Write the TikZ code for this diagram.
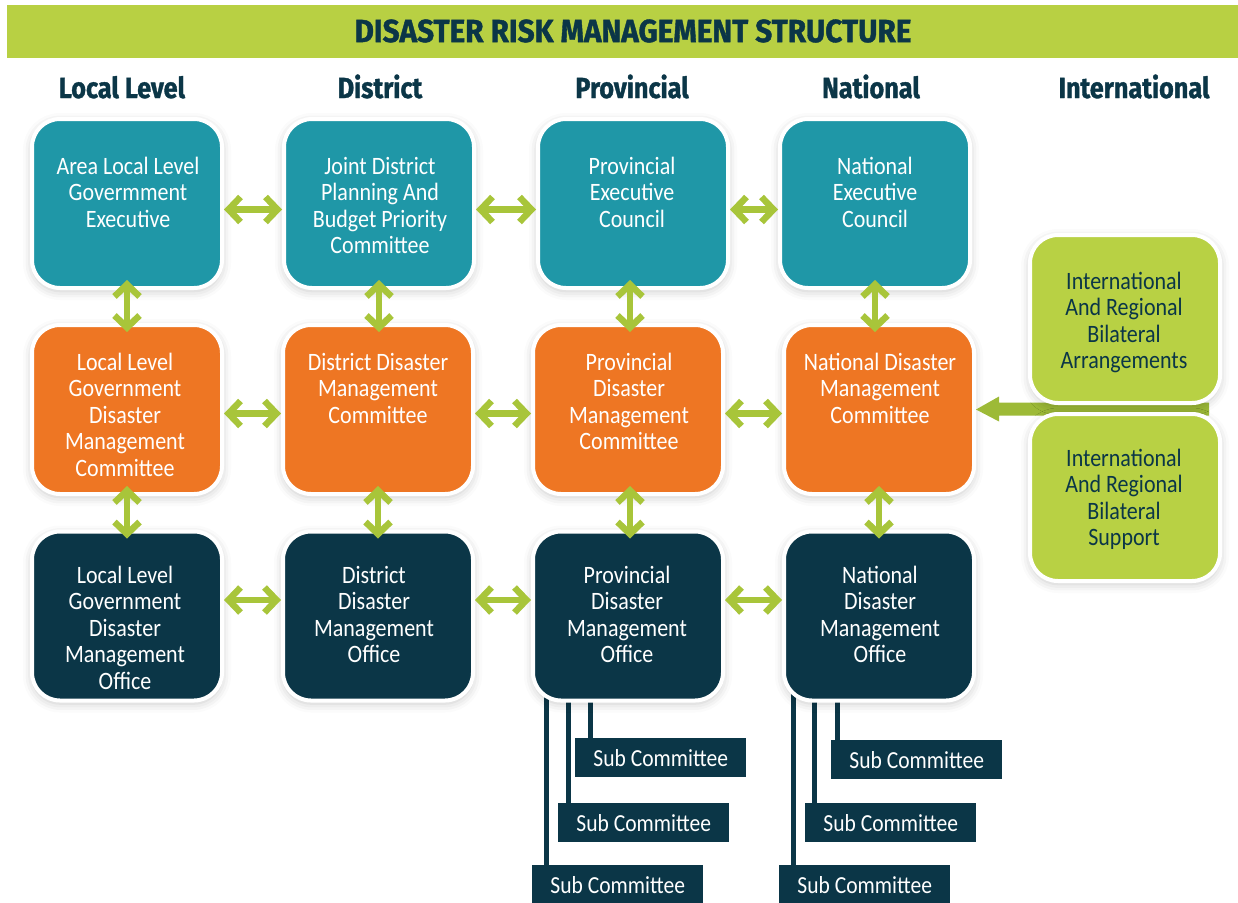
\documentclass[tikz,border=0pt]{standalone}
\usepackage{fontspec}
\usetikzlibrary{arrows.meta,shadows.blur}
\newfontfamily\bodyfont[FakeStretch=0.88]{Carlito}
\newfontfamily\headfont[FakeStretch=0.87,FakeBold=1.2]{Fira Sans}
\newfontfamily\titlefont[FakeStretch=0.93,FakeBold=1.2]{Fira Sans}

\definecolor{drmTeal}{HTML}{1F97A7}
\definecolor{drmOrange}{HTML}{EE7623}
\definecolor{drmNavy}{HTML}{0B3647}
\definecolor{drmLime}{HTML}{B8D144}
\definecolor{drmBar}{HTML}{B8D043}
\definecolor{drmArrow}{HTML}{A8C53A}
\definecolor{drmOlive}{HTML}{9DBA37}

\pgfdeclarelayer{bg}
\pgfsetlayers{bg,main}

\tikzset{
  box/.style={rounded corners=28pt, draw=white, line width=4pt,
    minimum width=190pt, minimum height=169pt, inner sep=0pt,
    blur shadow={shadow xshift=0pt, shadow yshift=-3pt,
      shadow blur radius=9pt, shadow opacity=22}},
  boxtext/.style={font=\bodyfont\fontsize{25}{26.5}\selectfont,
    align=center, inner sep=0pt, anchor=north, text=white},
  dbl/.style={draw=drmArrow, line width=6.5pt,
    {Straight Barb[length=12pt,width=25pt]}-{Straight Barb[length=12pt,width=25pt]}},
  head/.style={font=\headfont\bfseries\fontsize{29}{30}\selectfont,
    text=drmNavy, anchor=base, inner sep=0pt},
  subbox/.style={fill=drmNavy, text=white, minimum width=171pt,
    minimum height=39pt, inner sep=0pt, anchor=north west,
    font=\bodyfont\fontsize{24.5}{26}\selectfont},
  subline/.style={draw=drmNavy, line width=5pt},
}

\begin{document}
\begin{tikzpicture}[x=1pt,y=-1pt]
\useasboundingbox (0,0) rectangle (1238,902);

% title bar
\node[fill=drmBar, minimum width=1231pt, minimum height=53pt, inner sep=0pt,
  anchor=north west] (bar) at (7,5) {};
\node[font=\titlefont\bfseries\fontsize{32}{34}\selectfont, text=drmNavy,
  inner sep=0pt] (title) at (633,31) {DISASTER RISK MANAGEMENT STRUCTURE};

% column headings
\node[head] (hLocal) at (122,98) {Local Level};
\node[head] (hDistrict) at (380,98) {District};
\node[head] (hProv) at (632,98) {Provincial};
\node[head] (hNat) at (871,98) {National};
\node[head] (hIntl) at (1134,98) {International};

% executive row
\node[box, fill=drmTeal] (b11) at (127,203.5) {};
\node[box, fill=drmTeal] (b12) at (379,203.5) {};
\node[box, fill=drmTeal] (b13) at (633,203.5) {};
\node[box, fill=drmTeal] (b14) at (875,203.5) {};

% committee row
\node[box, fill=drmOrange] (b21) at (127,409.5) {};
\node[box, fill=drmOrange] (b22) at (378,409.5) {};
\node[box, fill=drmOrange] (b23) at (628,409.5) {};
\node[box, fill=drmOrange] (b24) at (879,409.5) {};

% office row
\node[box, fill=drmNavy] (b31) at (127,616) {};
\node[box, fill=drmNavy] (b32) at (378,616) {};
\node[box, fill=drmNavy] (b33) at (628,616) {};
\node[box, fill=drmNavy] (b34) at (879,616) {};

% box texts
\node[boxtext] (t11) at (128,152) {\rule{0pt}{22pt}Area Local Level\\Govermment\\Executive};
\node[boxtext] (t12) at (380,152) {\rule{0pt}{22pt}Joint District\\Planning And\\Budget Priority\\Committee};
\node[boxtext] (t13) at (632,152) {\rule{0pt}{22pt}Provincial\\Executive\\Council};
\node[boxtext] (t14) at (875,152) {\rule{0pt}{22pt}National\\Executive\\Council};

\node[boxtext] (t21) at (125,348) {\rule{0pt}{22pt}Local Level\\Government\\Disaster\\Management\\Committee};
\node[boxtext] (t22) at (378,348) {\rule{0pt}{22pt}District Disaster\\Management\\Committee};
\node[boxtext] (t23) at (629,348) {\rule{0pt}{22pt}Provincial\\Disaster\\Management\\Committee};
\node[boxtext] (t24) at (880,348) {\rule{0pt}{22pt}National Disaster\\Management\\Committee};

\node[boxtext] (t31) at (125,561) {\rule{0pt}{22pt}Local Level\\Government\\Disaster\\Management\\Office};
\node[boxtext] (t32) at (374,561) {\rule{0pt}{22pt}District\\Disaster\\Management\\Office};
\node[boxtext] (t33) at (627,561) {\rule{0pt}{22pt}Provincial\\Disaster\\Management\\Office};
\node[boxtext] (t34) at (880,561) {\rule{0pt}{22pt}National\\Disaster\\Management\\Office};

% horizontal links
\draw[dbl] ([yshift=-6pt]b11.east) -- ([yshift=-6pt]b11.east -| b12.west);
\draw[dbl] ([yshift=-6pt]b12.east) -- ([yshift=-6pt]b12.east -| b13.west);
\draw[dbl] ([yshift=-6pt]b13.east) -- ([yshift=-6pt]b13.east -| b14.west);
\draw[dbl] ([yshift=-4pt]b21.east) -- ([yshift=-4pt]b21.east -| b22.west);
\draw[dbl] ([yshift=-4pt]b22.east) -- ([yshift=-4pt]b22.east -| b23.west);
\draw[dbl] ([yshift=-4pt]b23.east) -- ([yshift=-4pt]b23.east -| b24.west);
\draw[dbl] ([yshift=16pt]b31.east) -- ([yshift=16pt]b31.east -| b32.west);
\draw[dbl] ([yshift=16pt]b32.east) -- ([yshift=16pt]b32.east -| b33.west);
\draw[dbl] ([yshift=16pt]b33.east) -- ([yshift=16pt]b33.east -| b34.west);

% vertical links
\draw[dbl, shorten <=-10pt, shorten >=-9pt] (b11.south) -- (b11.south |- b21.north);
\draw[dbl, shorten <=-10pt, shorten >=-9pt] (b12.south) -- (b12.south |- b22.north);
\draw[dbl, shorten <=-10pt, shorten >=-9pt] ([xshift=-3pt]b13.south) -- ([xshift=-3pt]b13.south |- b23.north);
\draw[dbl, shorten <=-10pt, shorten >=-9pt] (b14.south) -- (b14.south |- b24.north);
\draw[dbl, shorten <=-10pt, shorten >=-9pt] (b21.south) -- (b21.south |- b31.north);
\draw[dbl, shorten <=-10pt, shorten >=-9pt] (b22.south) -- (b22.south |- b32.north);
\draw[dbl, shorten <=-10pt, shorten >=-9pt] ([xshift=2pt]b23.south) -- ([xshift=2pt]b23.south |- b33.north);
\draw[dbl, shorten <=-10pt, shorten >=-9pt] (b24.south) -- (b24.south |- b34.north);

% international input arrow
\fill[drmOlive] (b24.east) -- ++(23,-13) -- ++(0,6) -- ++(210,0) -- ++(0,13)
  -- ++(-210,0) -- ++(0,6) -- cycle;

% international boxes
\node[box, fill=drmLime, minimum height=168pt] (i1) at (1125,319) {};
\node[box, fill=drmLime, minimum height=167pt] (i2) at (1125,497.5) {};
\node[boxtext, text=drmNavy] (ti1) at (1124,267) {\rule{0pt}{22pt}International\\And Regional\\Bilateral\\Arrangements};
\node[boxtext, text=drmNavy] (ti2) at (1124,444) {\rule{0pt}{22pt}International\\And Regional\\Bilateral\\Support};

% sub committees
\node[subbox] (s31) at (575,738) {Sub Committee};
\node[subbox] (s32) at (558,803) {Sub Committee};
\node[subbox] (s33) at (532,865) {Sub Committee};
\node[subbox] (s41) at (831,740) {Sub Committee};
\node[subbox] (s42) at (805,803) {Sub Committee};
\node[subbox] (s43) at (779,865) {Sub Committee};

\begin{pgfonlayer}{bg}
\draw[subline] ([xshift=15pt]s31.north west) -- ([xshift=15pt]s31.north west |- b33.center);
\draw[subline] ([xshift=10pt]s32.north west) -- ([xshift=10pt]s32.north west |- b33.center);
\draw[subline] ([xshift=14pt]s33.north west) -- ([xshift=14pt]s33.north west |- b33.center);
\draw[subline] ([xshift=6pt]s41.north west) -- ([xshift=6pt]s41.north west |- b34.center);
\draw[subline] ([xshift=9pt]s42.north west) -- ([xshift=9pt]s42.north west |- b34.center);
\draw[subline] ([xshift=14pt]s43.north west) -- ([xshift=14pt]s43.north west |- b34.center);
\end{pgfonlayer}
\end{tikzpicture}
\end{document}
